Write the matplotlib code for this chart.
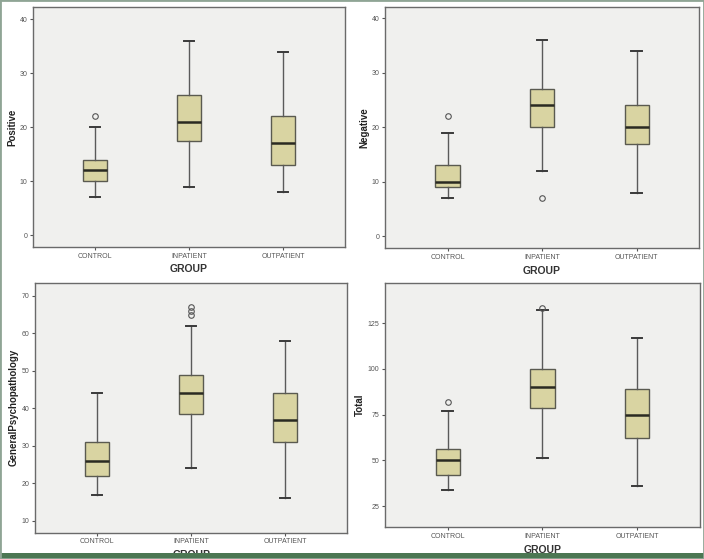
import matplotlib.pyplot as plt
from matplotlib.patches import Rectangle

groups = ["CONTROL", "INPATIENT", "OUTPATIENT"]

# per group: whisker low, q1, median, q3, whisker high, outliers
positive = [(7, 10, 12, 14, 20, [22]),
            (9, 17.5, 21, 26, 36, []),
            (8, 13, 17, 22, 34, [])]
negative = [(7, 9, 10, 13, 19, [22]),
            (12, 20, 24, 27, 36, [7]),
            (8, 17, 20, 24, 34, [])]
general = [(17, 22, 26, 31, 44, []),
           (24, 38.5, 44, 49, 62, [65, 66, 67]),
           (16, 31, 37, 44, 58, [])]
total = [(34, 42, 50, 56, 77, [82]),
         (51, 78.5, 90, 100, 132, [133]),
         (36, 62, 75, 89, 117, [])]

panels = [
    ("Positive", positive, [0, 10, 20, 30, 40], (-2.2, 42.2), [0.047, 0.558, 0.443, 0.429]),
    ("Negative", negative, [0, 10, 20, 30, 40], (-2.2, 42.0), [0.547, 0.556, 0.446, 0.431]),
    ("GeneralPsychopathology", general, [10, 20, 30, 40, 50, 60, 70], (6.8, 73.5), [0.050, 0.047, 0.443, 0.447]),
    ("Total", total, [25, 50, 75, 100, 125], (13.5, 146.8), [0.547, 0.057, 0.447, 0.4365]),
]

plt.rcParams['font.family'] = ['Liberation Sans', 'DejaVu Sans']

fig = plt.figure(figsize=(7.04, 5.59), dpi=100)
fig.patch.set_facecolor("white")

for name, data, ticks, ylim, pos in panels:
    ax = fig.add_axes(pos)
    ax.set_facecolor("#F0F0EE")
    stats = []
    for lo, q1, med, q3, hi, fl in data:
        stats.append(dict(whislo=lo, q1=q1, med=med, q3=q3, whishi=hi, fliers=fl))
    ax.bxp(stats, positions=[1, 2, 3], widths=0.255, capwidths=0.11, patch_artist=True,
           boxprops=dict(facecolor="#D9D4A2", edgecolor="#5a5a50", linewidth=1.0),
           medianprops=dict(color="#2a2a22", linewidth=1.8),
           whiskerprops=dict(color="#5a5a5a", linewidth=1.0),
           capprops=dict(color="#3a3a3a", linewidth=1.4),
           flierprops=dict(marker="o", markersize=4, markerfacecolor="none",
                           markeredgecolor="#555555", markeredgewidth=0.8))
    ax.set_xlim(0.34, 3.66)
    ax.set_ylim(*ylim)
    ax.set_yticks(ticks)
    ax.set_yticklabels([str(t) for t in ticks])
    ax.set_xticks([1, 2, 3])
    ax.set_xticklabels(groups)
    ax.tick_params(axis="both", labelsize=5, colors="#555555", length=2.5, width=0.8, pad=1.5)
    for sp in ax.spines.values():
        sp.set_color("#6a6a6a")
        sp.set_linewidth(1.0)
    ax.set_ylabel(name, fontsize=7, fontweight="bold", color="#222222", labelpad=2)
    ax.set_xlabel("GROUP", fontsize=7.5, fontweight="bold", color="#333333", labelpad=3.5)

# frame of the original scan (the bottom strip clips the last GROUP label, as in the scan)
fig.add_artist(Rectangle((0, 0), 1, 6 / 559, transform=fig.transFigure,
                         facecolor="#4C7753", edgecolor="none", zorder=10))
fig.add_artist(Rectangle((0, 0), 1, 1, transform=fig.transFigure,
                         facecolor="none", edgecolor="#8FA595", linewidth=2, zorder=10))

fig.savefig("out.png", dpi=100)
